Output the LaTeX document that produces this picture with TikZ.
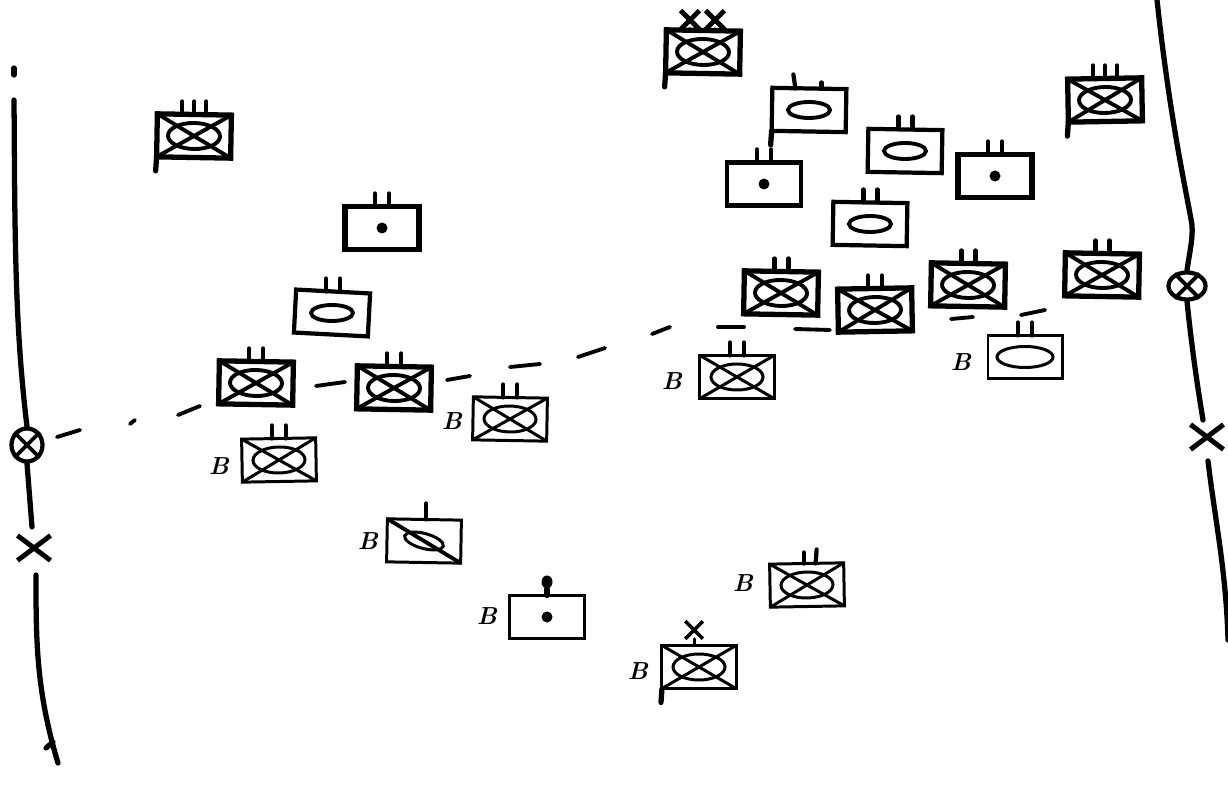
\documentclass[tikz,border=0pt]{standalone}
\usetikzlibrary{shapes.geometric, shapes.misc}

\begin{document}
\begin{tikzpicture}[
  x=0.01cm, y=-0.01cm,
  box/.style={
    rectangle, draw=black, line width=1.2pt, fill=white,
    minimum width=0.74cm, minimum height=0.43cm, inner sep=0pt, outer sep=0pt
  },
  hvy/.style={box, line width=1.5pt},
  thn/.style={box, line width=0.85pt},
  oval/.style={ellipse, draw=black, line width=1.1pt, inner sep=0pt,
    minimum width=0.42cm, minimum height=0.16cm},
  xoval/.style={oval, minimum width=0.52cm, minimum height=0.26cm},
  dot/.style={circle, fill=black, inner sep=0pt, minimum size=0.11cm},
  diag/.style={draw=black, line width=1.1pt},
  tick/.style={draw=black, line width=1.2pt, line cap=round},
  stem/.style={draw=black, line width=1.5pt, line cap=round},
  bnd/.style={draw=black, line width=1.5pt, line cap=round},
  gap/.style={ellipse, draw=black, line width=1.2pt, inner sep=0pt,
    minimum width=0.31cm, minimum height=0.33cm},
  xmark/.style={cross out, draw=black, line width=1.4pt, inner sep=0pt,
    minimum width=0.28cm, minimum height=0.2cm},
  lbl/.style={font=\bfseries\itshape\fontsize{7}{7}\selectfont, inner sep=0pt},
]
\useasboundingbox (0,0) rectangle (1228,786);

% Crossed units, front line and top of the page
\foreach \n/\px/\py/\r in {tc/703/52/-1, tl/194/136/-1, tr/1105/100/1, la/256/383/-1, lb/394/388/-1,
    ma/781/293/-1, mb/875/310/1, mc/968/285/-1, md/1102/275/-1} {
  \node[hvy, rotate=\r] (\n) at (\px,\py) {};
  \node[xoval, rotate=\r] at (\n) {};
  \draw[diag] (\n.north west) -- (\n.south east);
  \draw[diag] (\n.south west) -- (\n.north east);
}

% Crossed units, marked B
\foreach \n/\px/\py/\r in {ba/737/377/0, bb/510/419/-1, bc/279/460/1, bd/807/585/1, be/699/667/0} {
  \node[thn, rotate=\r] (\n) at (\px,\py) {};
  \node[xoval, line width=0.85pt, rotate=\r] at (\n) {};
  \draw[diag, line width=0.85pt] (\n.north west) -- (\n.south east);
  \draw[diag, line width=0.85pt] (\n.south west) -- (\n.north east);
}

% Oval units
\node[box, rotate=-1] (oa) at (809,110) {};
\node[oval] at (oa) {};
\node[box, rotate=-1] (ob) at (905,151) {};
\node[oval] at (ob) {};
\node[box, rotate=-1] (oc) at (870,224) {};
\node[oval] at (oc) {};
\node[box, rotate=-3] (od) at (332,313) {};
\node[oval] at (od) {};
\node[thn, rotate=0] (oe) at (1025,357) {};
\node[oval, line width=0.85pt, minimum width=0.56cm, minimum height=0.21cm] at (oe) {};

% Dot units
\node[box] (da) at (764,184) {};
\node[dot] at (da) {};
\node[hvy] (db) at (995,176) {};
\node[dot] at (db) {};
\node[hvy] (dc) at (382,228) {};
\node[dot] at (dc) {};
\node[thn] (dd) at (547,617) {};
\node[dot] at (dd) {};

% Slashed unit
\node[thn, rotate=-1] (sa) at (424,541) {};
\node[oval, rotate=-15, line width=0.85pt, minimum width=0.4cm, minimum height=0.15cm] at (sa) {};
\draw[diag] (sa.north west) -- (sa.south east);

% Marks above the boxes
\foreach \n in {ma,mb,mc,md,la,lb,ba,bb,bc,oc,od,ob,oe,da,db,dc}
  \foreach \t in {-7,7}
    \draw[tick] (\n.north) ++(\t,0) -- ++(0,-13);
\foreach \n in {tl,tr}
  \foreach \t in {-12,0,12}
    \draw[tick] (\n.north) ++(\t,0) -- ++(0,-13);
\draw[tick] (oa.north) ++(-14,0) -- ++(-2,-14);
\draw[tick] (oa.north) ++(12,0) -- ++(0,-6);
\draw[tick] (sa.north) ++(2,0) -- ++(0,-16);
\draw[tick] (bd.north) ++(-3,0) -- ++(0,-11);
\draw[tick] (bd.north) ++(9,0) -- ++(1,-14);
\node[ellipse, fill=black, inner sep=0pt, minimum width=0.11cm, minimum height=0.13cm] (cap) at (dd.north |- 0,582) {};
\draw[stem] (cap) -- (dd.north);
\node[xmark, minimum width=0.14cm, minimum height=0.14cm] (xa) at (690,20) {};
\node[xmark, minimum width=0.14cm, minimum height=0.14cm] (xb) at (715,20) {};
\draw[tick] (xa) -- (tc.north -| xa);
\draw[tick] (xb) -- (tc.north -| xb);
\node[xmark, line width=1pt, minimum width=0.14cm, minimum height=0.14cm] (xc) at (694,630) {};
\draw[tick, line width=0.85pt] (xc) -- (be.north -| xc);

% Flag staffs
\foreach \n in {tc,tl,tr,oa,be}
  \draw[stem] (\n.south west) -- ++(-1,14);

% Boundary, left side
\node[gap] (gl) at (27,445) {};
\draw[diag] (gl.45) -- (gl.225);
\draw[diag] (gl.135) -- (gl.315);
\node[xmark] (xl) at (34,548) {};
\coordinate (ltop) at (14,100);
\coordinate (lend) at (58,763);
\coordinate (lbelow) at (36,575);
\coordinate (lmid) at (32,527);
\coordinate (lbar) at (46,748);
\draw[bnd] (14,68) -- (14,75);
\draw[bnd] (ltop) .. controls (15,220) and (14,320) .. (gl.north);
\draw[bnd] (gl.south) -- (lmid);
\draw[bnd] (lbelow) .. controls (36,640) and (36,690) .. (lend);
\draw[bnd] (lbar) -- (53,742);

% Boundary, right side
\node[gap, minimum width=0.37cm, minimum height=0.27cm] (gr) at (1187,286) {};
\draw[diag] (gr.45) -- (gr.225);
\draw[diag] (gr.135) -- (gr.315);
\node[xmark] (xr) at (1207,437) {};
\coordinate (rtop) at (1157,0);
\coordinate (rbelow) at (1208,461);
\coordinate (rend) at (1228,640);
\coordinate (rmid) at (1203,420);
\draw[bnd] (rtop) .. controls (1170,120) and (1186,190) .. (1192,225) .. controls (1193,240) and (1189,255) .. (gr.north);
\draw[bnd] (gr.south) .. controls (1192,350) and (1198,390) .. (rmid);
\draw[bnd] (rbelow) .. controls (1215,520) and (1226,570) .. (rend);

% Broken line between the two boundaries
\foreach \ax/\ay/\bx/\by in {57/437/80/430, 130/424/135/420, 178/415/200/406, 316/386/345/382,
    447/380/470/376, 510/367/540/364, 578/357/605/348, 652/334/670/327, 718/327/744/327,
    795/329/830/330, 951/319/973/317, 1021/315/1045/310}
  \draw[bnd, line width=1.1pt] (\ax,\ay) -- (\bx,\by);

% B labels
\node[lbl] (la1) at (672,381) {B};
\node[lbl] (la2) at (961,362) {B};
\node[lbl] (la3) at (452,421) {B};
\node[lbl] (la4) at (219,466) {B};
\node[lbl] (la5) at (368,541) {B};
\node[lbl] (la6) at (487,616) {B};
\node[lbl] (la7) at (743,583) {B};
\node[lbl] (la8) at (638,671) {B};
\end{tikzpicture}
\end{document}
